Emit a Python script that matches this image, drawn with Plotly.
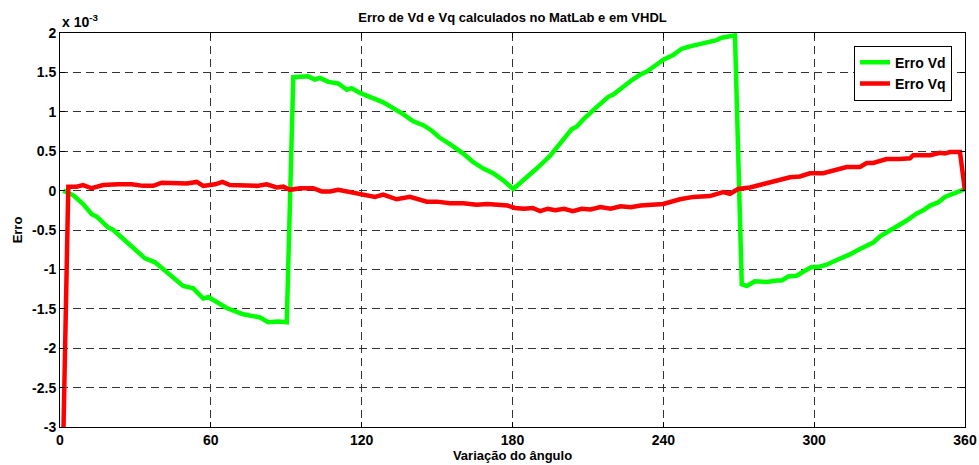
import plotly.graph_objects as go

# Angle (degrees) and error values (units of 1e-3) for each series
vd_angle = [1.3, 5.3, 9.2, 12.6, 14.6, 19.2, 21.2, 23.9, 28.5, 33.8, 37.8, 43.8, 49.0, 53.0,
            57.0, 59.0, 62.3, 66.3, 72.9, 75.6, 79.6, 82.8, 86.8, 90.2,
            92.8, 98.7, 101.4, 103.4, 106.7, 110.7, 114.1, 116.0, 119.3, 128.6, 132.6, 136.5,
            140.5, 144.5, 147.9, 151.1, 155.1, 157.8, 160.4, 164.4, 168.4, 172.3, 176.3, 180.3,
            184.3, 189.6, 194.9, 198.9, 203.6, 205.5, 208.1, 212.8, 218.1, 220.1, 222.7, 227.4,
            230.7, 233.4, 237.4, 240.0, 243.9, 247.3, 250.6, 254.6, 258.5, 261.2, 263.2, 266.5,
            268.5,
            271.2, 273.2, 276.4, 281.1, 285.1, 287.1, 289.7, 293.0, 295.6, 299.0, 301.6, 305.0,
            309.0, 314.2, 318.2, 323.5, 326.2, 330.1, 332.8, 336.8, 340.8, 343.4, 346.1, 349.3,
            352.0, 355.3, 360.0]
vd_err = [0.00, -0.06, -0.17, -0.30, -0.33, -0.47, -0.50, -0.58, -0.70, -0.86, -0.91, -1.08,
          -1.21, -1.24, -1.37, -1.35, -1.42, -1.49, -1.57, -1.59, -1.61, -1.67, -1.66, -1.67,
          1.44, 1.45, 1.41, 1.43, 1.38, 1.36, 1.28, 1.30, 1.24, 1.12, 1.05, 0.97,
          0.88, 0.83, 0.76, 0.67, 0.59, 0.53, 0.47, 0.36, 0.28, 0.22, 0.13, 0.02,
          0.13, 0.28, 0.44, 0.59, 0.78, 0.81, 0.90, 1.04, 1.19, 1.22, 1.29, 1.40,
          1.47, 1.51, 1.60, 1.66, 1.72, 1.80, 1.83, 1.86, 1.89, 1.91, 1.94, 1.95,
          1.97,
          -1.19, -1.21, -1.15, -1.16, -1.14, -1.14, -1.09, -1.08, -1.03, -0.97, -0.97, -0.94,
          -0.88, -0.81, -0.74, -0.66, -0.58, -0.51, -0.46, -0.38, -0.29, -0.25, -0.19, -0.15,
          -0.08, -0.04, 0.02]

vq_angle = [1.4, 3.3, 6.6, 9.2, 12.6, 17.2, 23.2, 28.5, 33.1, 37.1, 40.5, 45.7, 50.4, 54.4,
            57.0, 61.7, 64.6, 67.6, 74.3, 78.3, 82.2, 86.2, 88.8, 91.5, 95.5, 100.7, 104.1,
            107.4, 110.7, 115.3, 120.0, 125.3, 128.6, 133.9, 139.2, 145.9, 149.9, 155.1, 160.4,
            165.7, 170.0, 175.0, 178.0, 181.0, 184.5, 188.0, 191.0, 194.0, 197.0, 200.5, 204.0,
            207.5, 211.0, 215.0, 219.0, 223.0, 227.0, 231.0, 236.0, 240.0, 246.6, 252.0, 258.5,
            263.8, 266.5, 269.8, 274.5, 278.4, 282.4, 286.4, 290.4, 294.3, 298.3, 303.6, 307.6,
            312.9, 318.2, 320.9, 323.5, 328.8, 334.1, 338.1, 339.4, 346.1, 350.0, 352.0, 354.0,
            358.0, 360.0]
vq_err = [-3.00, 0.05, 0.05, 0.07, 0.03, 0.07, 0.08, 0.08, 0.06, 0.06, 0.10, 0.09, 0.09, 0.11,
          0.06, 0.08, 0.11, 0.07, 0.06, 0.06, 0.08, 0.04, 0.05, 0.01, 0.03, 0.03, -0.01,
          -0.01, 0.01, -0.02, -0.04, -0.08, -0.05, -0.11, -0.08, -0.14, -0.14, -0.16, -0.16,
          -0.18, -0.17, -0.19, -0.19, -0.22, -0.23, -0.22, -0.26, -0.23, -0.25, -0.23, -0.26,
          -0.23, -0.24, -0.21, -0.23, -0.20, -0.21, -0.19, -0.18, -0.17, -0.11, -0.08, -0.07,
          -0.02, -0.04, 0.02, 0.04, 0.07, 0.11, 0.14, 0.17, 0.18, 0.22, 0.22, 0.26,
          0.30, 0.30, 0.35, 0.35, 0.40, 0.40, 0.41, 0.45, 0.45, 0.48, 0.47, 0.49,
          0.49, 0.00]

x_ticks = [0, 60, 120, 180, 240, 300, 360]
y_ticks = [-3, -2.5, -2, -1.5, -1, -0.5, 0, 0.5, 1, 1.5, 2]
y_tick_labels = ["-3", "-2.5", "-2", "-1.5", "-1", "-0.5", "0", "0.5", "1", "1.5", "2"]

FONT = "Liberation Sans, Arial, Helvetica, sans-serif"

fig = go.Figure()
fig.add_trace(go.Scatter(x=vd_angle, y=vd_err, mode="lines", name="Erro Vd",
                         line=dict(color="#00ff00", width=4.5)))
fig.add_trace(go.Scatter(x=vq_angle, y=vq_err, mode="lines", name="Erro Vq",
                         line=dict(color="#ff0000", width=4.5)))

axis_common = dict(
    showline=True, linecolor="black", linewidth=1, mirror="ticks",
    ticks="inside", ticklen=5, tickcolor="black",
    showgrid=True, gridcolor="#333333", gridwidth=1, griddash="8px,5px",
    zeroline=False, automargin=False,
    tickfont=dict(family=FONT, size=14, color="black", weight="bold"),
)

fig.update_xaxes(range=[0, 360], tickvals=x_ticks, **axis_common,
                 title=dict(text="Variação do ângulo", standoff=2,
                            font=dict(family=FONT, size=13, color="black", weight="bold")))
fig.update_yaxes(range=[-3, 2], tickvals=y_ticks, ticktext=y_tick_labels, **axis_common,
                 title=dict(text="Erro", standoff=6,
                            font=dict(family=FONT, size=13, color="black", weight="bold")))

fig.add_annotation(xref="paper", yref="paper", x=0, y=1, xanchor="left", yanchor="bottom",
                   text="x 10<sup>-3</sup>", showarrow=False, yshift=1,
                   font=dict(family=FONT, size=14, color="black", weight="bold"))

fig.update_layout(
    width=979, height=465,
    margin=dict(l=60, r=14, t=33, b=38),
    paper_bgcolor="white", plot_bgcolor="white",
    title=dict(text="Erro de Vd e Vq calculados no MatLab e em VHDL",
               x=0.5, xanchor="center", xref="paper", y=0.962, yanchor="middle",
               font=dict(family=FONT, size=13, color="black", weight="bold")),
    legend=dict(x=0.9856, y=0.968, xanchor="right", yanchor="top",
                bgcolor="white", bordercolor="black", borderwidth=1,
                font=dict(family=FONT, size=14, color="black", weight="bold"),
                tracegroupgap=0),
    showlegend=True,
)

fig.write_html("out.html")
